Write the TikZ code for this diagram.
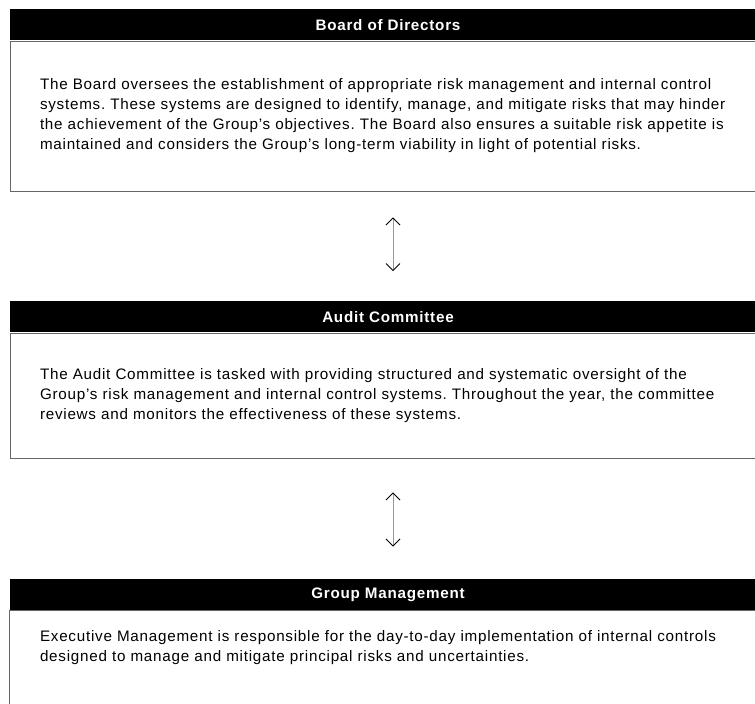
\documentclass[tikz,border=0pt]{standalone}
\usepackage{fontspec}
\setmainfont{Liberation Sans}[LetterSpace=5]
\usetikzlibrary{positioning,arrows.meta}

\begin{document}
\frenchspacing
\begin{tikzpicture}[x=1pt,y=1pt,
    font=\fontsize{15.2pt}{20pt}\selectfont,
    header/.style={fill=black,text=white,font=\fontsize{15.2pt}{20pt}\selectfont\bfseries,
        minimum width=756pt,minimum height=31pt,inner sep=0pt},
    body/.style={draw=black!60,line width=0.8pt,text width=696pt,align=left,inner xsep=30pt},
    link/.style={draw=black!40,line width=0.9pt,
        {Straight Barb[black,length=7pt,width=14pt]}-{Straight Barb[black,length=7pt,width=14pt]}}]
    \useasboundingbox (0,0) rectangle (755,-704);

    % Board of Directors
    \node[body,minimum height=150pt] (boardtxt) at (388,-116) {The Board oversees the establishment of appropriate risk management and internal control\\
        systems. These systems are designed to identify, manage, and mitigate risks that may hinder\\
        the achievement of the Group's objectives. The Board also ensures a suitable risk appetite is\\
        maintained and considers the Group's long-term viability in light of potential risks.};
    \node[header,above=0pt of boardtxt] (boardhd) {Board of Directors};

    % Audit Committee
    \node[body,minimum height=125pt] (audittxt) at (388,-395.5) {The Audit Committee is tasked with providing structured and systematic oversight of the\\
        Group's risk management and internal control systems. Throughout the year, the committee\\
        reviews and monitors the effectiveness of these systems.};
    \node[header,above=0pt of audittxt] (audithd) {Audit Committee};

    % Group Management (runs off the page)
    \node[body,draw=none,anchor=north,inner ysep=20pt] (grouptxt) at (388,-610) {Executive Management is responsible for the day-to-day implementation of internal controls\\
        designed to manage and mitigate principal risks and uncertainties.};
    \draw[draw=black!60,line width=0.8pt] (grouptxt.north west) rectangle ++(756,-120);
    \node[header,above=0pt of grouptxt] (grouphd) {Group Management};

    % Links between the levels
    \draw[link,shorten <=26pt,shorten >=30pt] ([xshift=5pt]boardtxt.south) -- ([xshift=5pt]audithd.north);
    \draw[link,shorten <=34pt,shorten >=32pt] ([xshift=5pt]audittxt.south) -- ([xshift=5pt]grouphd.north);
\end{tikzpicture}
\end{document}
